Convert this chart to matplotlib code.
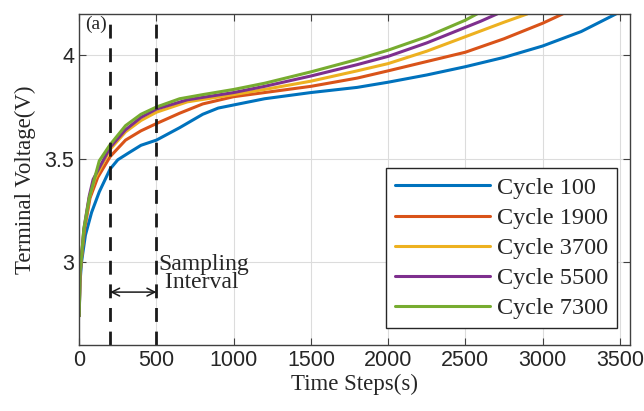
import numpy as np
import matplotlib.pyplot as plt

# time (s) and terminal voltage (V), one list per cycle
t_100 = [0, 5, 15, 40, 80, 130, 200, 250, 324, 400, 500, 650, 800, 900, 1000,
         1200, 1500, 1800, 2000, 2250, 2500, 2750, 3000, 3250, 3475]
v_100 = [2.74, 2.90, 3.00, 3.13, 3.24, 3.34, 3.45, 3.495, 3.53, 3.565, 3.59, 3.65, 3.715, 3.745, 3.76,
         3.79, 3.82, 3.845, 3.87, 3.905, 3.945, 3.99, 4.045, 4.115, 4.20]

t_1900 = [0, 5, 12, 35, 70, 120, 200, 300, 400, 500, 650, 800, 1000,
          1200, 1500, 1800, 2000, 2250, 2500, 2750, 3000, 3130]
v_1900 = [2.74, 2.92, 3.00, 3.16, 3.31, 3.41, 3.51, 3.59, 3.635, 3.67, 3.72, 3.765, 3.80,
          3.82, 3.85, 3.89, 3.925, 3.97, 4.015, 4.08, 4.155, 4.20]

t_3700 = [0, 5, 12, 30, 65, 100, 200, 300, 400, 500, 700, 1000,
          1200, 1500, 1800, 2000, 2250, 2500, 2750, 2900]
v_3700 = [2.74, 2.94, 3.00, 3.15, 3.31, 3.40, 3.545, 3.63, 3.685, 3.725, 3.775, 3.81,
          3.835, 3.875, 3.925, 3.96, 4.02, 4.09, 4.16, 4.20]

t_5500 = [0, 5, 12, 30, 65, 90, 200, 300, 400, 500, 700, 1000,
          1200, 1500, 1800, 2000, 2250, 2500, 2600, 2705]
v_5500 = [2.74, 2.95, 3.00, 3.16, 3.32, 3.40, 3.555, 3.64, 3.70, 3.74, 3.785, 3.82,
          3.85, 3.90, 3.955, 3.995, 4.06, 4.135, 4.165, 4.20]

t_7300 = [0, 5, 12, 30, 65, 130, 200, 300, 400, 500, 650, 800, 1000,
          1200, 1500, 1800, 2000, 2250, 2500, 2575]
v_7300 = [2.74, 2.95, 3.00, 3.16, 3.31, 3.49, 3.568, 3.66, 3.715, 3.75, 3.79, 3.81, 3.835,
          3.865, 3.92, 3.98, 4.025, 4.09, 4.17, 4.20]

series = [(t_100, v_100, 'Cycle 100', '#0072BD'),
          (t_1900, v_1900, 'Cycle 1900', '#D95319'),
          (t_3700, v_3700, 'Cycle 3700', '#EDB120'),
          (t_5500, v_5500, 'Cycle 5500', '#7E2F8E'),
          (t_7300, v_7300, 'Cycle 7300', '#77AC30')]

sample_lines = [200, 500]

serif = ['Liberation Serif', 'DejaVu Serif']
sans = ['Liberation Sans', 'DejaVu Sans']

fig = plt.figure(figsize=(6.44, 4.11), dpi=100)
ax = fig.add_axes([0.123, 0.161, 0.855, 0.805])

for t, v, lab, col in series:
    ax.plot(t, v, color=col, lw=2.2, label=lab, solid_capstyle='round', solid_joinstyle='round')

for xs in sample_lines:
    ax.axvline(xs, color='#1a1a1a', lw=2, linestyle=(0, (5, 3.5)))

ax.annotate('', xy=(sample_lines[0], 2.855), xytext=(sample_lines[1], 2.855),
            arrowprops=dict(arrowstyle='<->', color='#1a1a1a', lw=1.1,
                            shrinkA=0, shrinkB=0, mutation_scale=14))
ax.text(515, 2.945, 'Sampling\n Interval', family=serif, fontsize=17,
        ha='left', va='center', linespacing=0.8, color='#262626')
ax.text(40, 4.19, '(a)', family=serif, fontsize=14, ha='left', va='top', color='#262626')

ax.set_xlim(0, 3565)
ax.set_ylim(2.6, 4.2)
ax.set_xticks(np.arange(0, 3501, 500))
ax.set_yticks([3, 3.5, 4])
ax.set_yticklabels(['3', '3.5', '4'])
ax.grid(True, color='#dcdcdc', lw=0.8)
ax.set_axisbelow(True)
ax.tick_params(direction='in', length=5, color='#404040', labelcolor='#262626',
               labelsize=15.5, top=True, right=True)
for lbl in ax.get_xticklabels() + ax.get_yticklabels():
    lbl.set_family(sans)
for sp in ax.spines.values():
    sp.set_color('#404040')
    sp.set_linewidth(1)

ax.set_xlabel('Time Steps(s)', family=serif, fontsize=16.5, color='#262626', labelpad=2)
ax.set_ylabel('Terminal Voltage(V)', family=serif, fontsize=16.5, color='#262626', labelpad=6)

leg = ax.legend(loc='lower right', bbox_to_anchor=(0.976, 0.052), borderaxespad=0,
                prop={'family': serif, 'size': 17.5}, handlelength=3.9,
                handletextpad=0.3, labelspacing=0.33, borderpad=0.35,
                fancybox=False, framealpha=1, edgecolor='#262626')
leg.get_frame().set_linewidth(1)
for txt in leg.get_texts():
    txt.set_color('#262626')

fig.savefig('out.png', dpi=100)
